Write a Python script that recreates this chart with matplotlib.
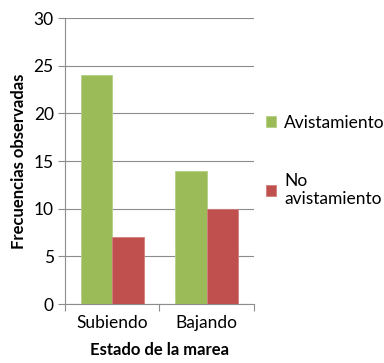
import numpy as np
import matplotlib.pyplot as plt
from matplotlib.ticker import FixedLocator

categorias = ["Subiendo", "Bajando"]
avistamiento = [24, 14]
no_avistamiento = [7, 10]
series = ["Avistamiento", "No\navistamiento"]

plt.rcParams['font.family'] = ['Lato', 'DejaVu Sans']

fig = plt.figure(figsize=(3.84, 3.63), dpi=100)
ax = fig.add_axes([0.169, 0.1625, 0.492, 0.7875])

x = np.arange(len(categorias))
w = 1 / 3
ax.bar(x - w / 2, avistamiento, w, color='#9BBB59', edgecolor='#B5CF85', linewidth=0.6,
       label=series[0], zorder=3)
ax.bar(x + w / 2, no_avistamiento, w, color='#C0504D', edgecolor='#D27F7C', linewidth=0.6,
       label=series[1], zorder=3)

ax.set_xlim(-0.5, len(categorias) - 0.5)
ax.set_ylim(0, 30)
ax.set_yticks(range(0, 31, 5))
ax.yaxis.grid(True, color='#8C8C8C', linewidth=0.8, zorder=0)

# ticks en los limites de categoria, etiquetas en el centro
ax.xaxis.set_major_locator(FixedLocator(np.arange(-0.5, len(categorias), 1)))
ax.xaxis.set_minor_locator(FixedLocator(x))
ax.set_xticklabels([], minor=False)
ax.set_xticklabels(categorias, minor=True)
ax.tick_params(axis='x', which='major', length=5, color='#8C8C8C', direction='out')
ax.tick_params(axis='x', which='minor', length=0, labelsize=12.5, pad=8)
ax.tick_params(axis='y', length=5, color='#8C8C8C', labelsize=12.5, pad=3)

for s in ['top', 'right']:
    ax.spines[s].set_visible(False)
for s in ['left', 'bottom']:
    ax.spines[s].set_color('#8C8C8C')
    ax.spines[s].set_linewidth(0.8)

ax.set_ylabel("Frecuencias observadas", fontsize=12, fontweight='bold', labelpad=5)
ax.set_xlabel("Estado de la marea", fontsize=12, fontweight='bold', labelpad=8)

ax.legend(loc='center left', bbox_to_anchor=(1.0, 0.5), frameon=False, fontsize=12.5,
          handlelength=0.6, handleheight=0.6, handletextpad=0.45, labelspacing=2.4,
          borderaxespad=0.3)

fig.savefig("out.png", dpi=100)
